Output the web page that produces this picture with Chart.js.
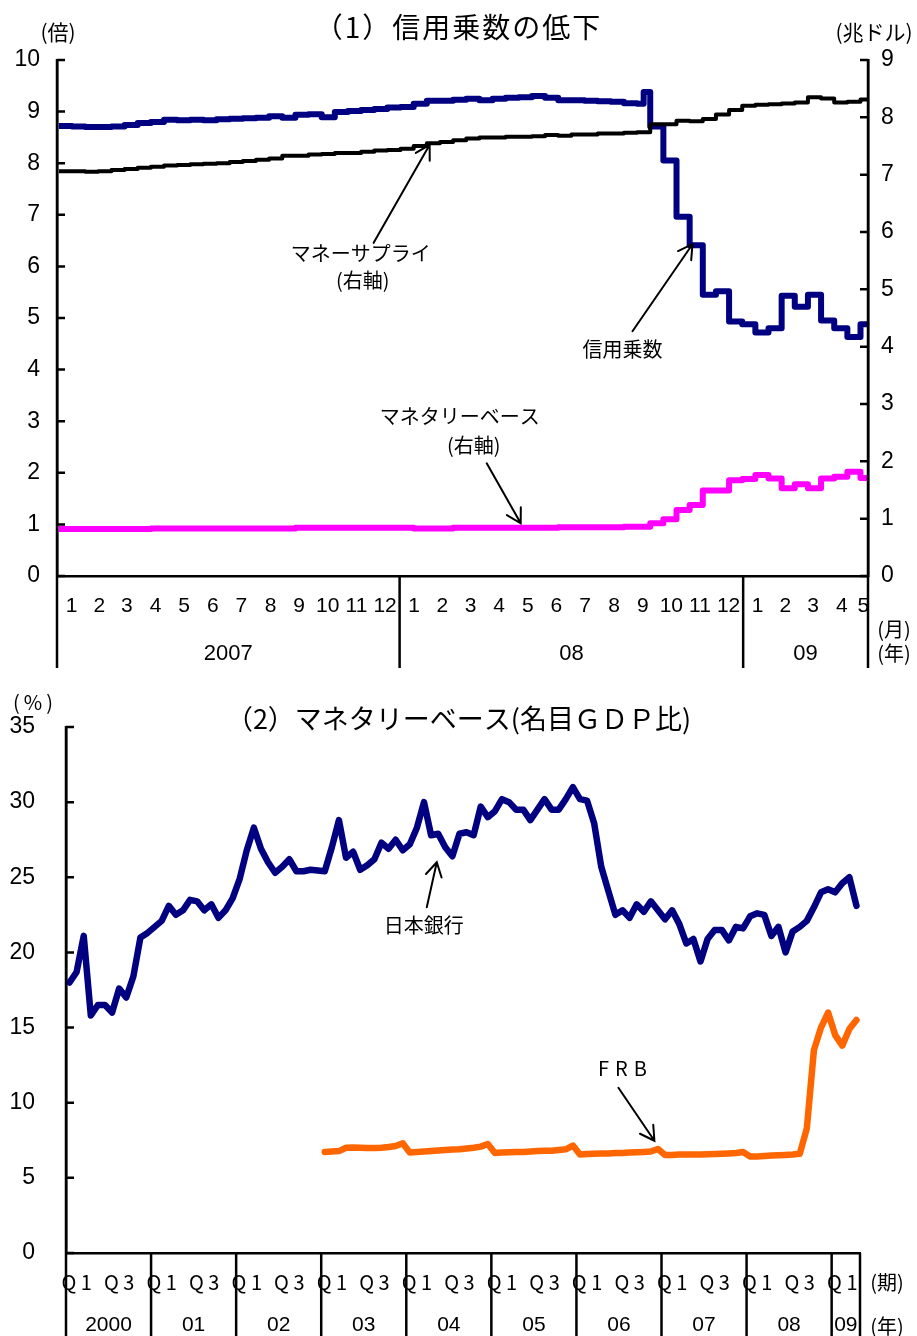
<!DOCTYPE html>
<html lang="ja">
<head>
<meta charset="utf-8">
<title>信用乗数とマネタリーベース</title>
<script src="https://cdn.jsdelivr.net/npm/chart.js@4.4.1/dist/chart.umd.min.js"></script>
<style>
  html, body { margin: 0; padding: 0; background: #ffffff; }
  canvas { display: block; }
</style>
</head>
<body>
<canvas id="c1" width="917" height="680"></canvas>
<canvas id="c2" width="917" height="656"></canvas>
<script>
// ===== (1) 信用乗数の低下 — biweekly observations =====
const periodStart = '2007-01-03';
const periodDays = 14;
const axisStart1 = '2007-01-01';
const axisEnd1 = '2009-05-14';

// 信用乗数（倍, left axis)
const creditMultiplier = [
  8.72, 8.71, 8.70, 8.70, 8.71, 8.74, 8.78, 8.80, 8.84, 8.83, 8.84, 8.83,
  8.85, 8.86, 8.87, 8.88, 8.91, 8.88, 8.94, 8.95, 8.89, 8.99, 9.01, 9.03,
  9.05, 9.08, 9.09, 9.15, 9.21, 9.21, 9.23, 9.25, 9.22, 9.25, 9.27, 9.28,
  9.30, 9.27, 9.22, 9.22, 9.21, 9.20, 9.19, 9.16, 9.15, 8.71, 8.05, 6.96,
  6.41, 5.45, 5.52, 4.93, 4.88, 4.72, 4.80, 5.43, 5.22, 5.45, 4.95, 4.80,
  4.63, 4.88
];
// one extra weekly reading in mid-September 2008
const multiplierSpike = { date: '2008-09-17', value: 9.38 };

// マネーサプライ（兆ドル, right axis)
const moneySupply = [
  7.06, 7.06, 7.05, 7.06, 7.08, 7.10, 7.12, 7.14, 7.16, 7.17, 7.18, 7.19,
  7.20, 7.22, 7.24, 7.26, 7.28, 7.33, 7.33, 7.35, 7.36, 7.38, 7.38, 7.40,
  7.42, 7.43, 7.45, 7.50, 7.55, 7.57, 7.60, 7.63, 7.65, 7.65, 7.66, 7.66,
  7.67, 7.69, 7.68, 7.70, 7.70, 7.72, 7.72, 7.73, 7.74, 7.88, 7.88, 7.94,
  7.93, 7.97, 8.05, 8.13, 8.20, 8.22, 8.23, 8.24, 8.26, 8.35, 8.33, 8.26,
  8.27, 8.31
];

// マネタリーベース（兆ドル, right axis)
const monetaryBase = [
  0.82, 0.82, 0.82, 0.82, 0.82, 0.82, 0.82, 0.83, 0.83, 0.83, 0.83, 0.83,
  0.83, 0.83, 0.83, 0.83, 0.83, 0.83, 0.84, 0.84, 0.84, 0.84, 0.84, 0.84,
  0.84, 0.84, 0.84, 0.83, 0.83, 0.83, 0.84, 0.84, 0.84, 0.84, 0.84, 0.84,
  0.84, 0.84, 0.85, 0.85, 0.85, 0.85, 0.85, 0.86, 0.86, 0.92, 0.99, 1.15,
  1.24, 1.49, 1.49, 1.67, 1.69, 1.76, 1.70, 1.53, 1.60, 1.53, 1.70, 1.73,
  1.82, 1.71
];

const monthLabels1 = ['1','2','3','4','5','6','7','8','9','10','11','12',
                      '1','2','3','4','5','6','7','8','9','10','11','12',
                      '1','2','3','4','5'];
const yearLabels1 = ['2007', '08', '09'];
const yearStarts1 = ['2007-01-01', '2008-01-01', '2009-01-01'];

// ===== (2) マネタリーベース（名目GDP比） — monthly, %, from 2000-01 =====
const bojRatio = [
  18.0, 18.7, 21.1, 15.8, 16.5, 16.5, 16.0, 17.6, 17.0, 18.4, 21.0, 21.3,
  21.7, 22.1, 23.1, 22.5, 22.8, 23.5, 23.4, 22.8, 23.2, 22.3, 22.8, 23.6,
  24.9, 26.8, 28.3, 26.9, 26.0, 25.3, 25.7, 26.2, 25.4, 25.4, 25.5, 25.45,
  25.4, 27.0, 28.8, 26.3, 26.7, 25.5, 25.8, 26.2, 27.3, 26.9, 27.5, 26.8,
  27.2, 28.3, 30.0, 27.8, 27.9, 27.0, 26.4, 27.9, 28.0, 27.8, 29.7, 29.0,
  29.4, 30.2, 30.0, 29.5, 29.5, 28.8, 29.5, 30.2, 29.5, 29.5, 30.2, 31.0,
  30.2, 30.1, 28.6, 25.7, 24.1, 22.5, 22.8, 22.3, 23.2, 22.7, 23.4, 22.8,
  22.2, 22.8, 21.9, 20.6, 20.9, 19.4, 20.9, 21.5, 21.5, 20.8, 21.7, 21.6,
  22.4, 22.6, 22.5, 21.1, 21.7, 20.0, 21.4, 21.7, 22.1, 23.0, 24.0, 24.2,
  24.0, 24.6, 25.0, 23.1
];
const frbFirstYear = 2003;
const frbRatio = [
  6.72, 6.75, 6.78, 7.00, 7.02, 7.00, 6.98, 6.98, 7.00, 7.05, 7.12, 7.30,
  6.68, 6.72, 6.75, 6.78, 6.82, 6.85, 6.88, 6.90, 6.95, 7.00, 7.08, 7.25,
  6.65, 6.68, 6.70, 6.72, 6.72, 6.75, 6.78, 6.80, 6.80, 6.85, 6.90, 7.15,
  6.55, 6.58, 6.60, 6.62, 6.62, 6.65, 6.65, 6.68, 6.70, 6.72, 6.75, 6.92,
  6.52, 6.52, 6.55, 6.55, 6.55, 6.55, 6.57, 6.58, 6.60, 6.62, 6.65, 6.72,
  6.42, 6.42, 6.45, 6.48, 6.50, 6.52, 6.55, 6.60, 8.30, 13.50, 15.00, 16.00,
  14.50, 13.80, 14.90, 15.50
];
const firstYear2 = 2000;
const monthsShown2 = 112;
const quarterLabels = ['Q 1', 'Q 3'];
const yearLabels2 = ['2000','01','02','03','04','05','06','07','08','09'];

// ===== shared styling =====
const NUM = '"Liberation Sans", Arial, sans-serif';
const JP = '"Noto Sans CJK JP", "Noto Sans", sans-serif';
const NAVY = '#000080';
const AXIS_W = 2.5;

const DAY = 86400000;
const t0 = Date.parse(axisStart1);
const dayOf = s => (Date.parse(s) - t0) / DAY;
const endDay1 = dayOf(axisEnd1);

function periodSeries(values) {
  const start = dayOf(periodStart);
  const pts = values.map((v, i) => ({ x: start + i * periodDays, y: v }));
  // hold the latest reading through to the end of the axis
  pts.push({ x: endDay1, y: values[values.length - 1] });
  return pts;
}
const multiplierPts = periodSeries(creditMultiplier);
multiplierPts.push({ x: dayOf(multiplierSpike.date), y: multiplierSpike.value });
multiplierPts.sort((a, b) => a.x - b.x);

// tick positions in the middle of each month
const monthMid1 = monthLabels1.map((_, i) => {
  const y = 2007 + Math.floor(i / 12), m = i % 12;
  const a = (Date.UTC(y, m, 1) - t0) / DAY, b = (Date.UTC(y, m + 1, 1) - t0) / DAY;
  return Math.min((a + b) / 2, endDay1 - 5);
});

function arrow(ctx, x1, y1, x2, y2) {
  const a = Math.atan2(y2 - y1, x2 - x1), L = 16, w = Math.PI / 6;
  ctx.save();
  ctx.strokeStyle = '#000';
  ctx.lineWidth = 2;
  ctx.lineCap = 'round';
  ctx.beginPath();
  ctx.moveTo(x1, y1); ctx.lineTo(x2, y2);
  ctx.moveTo(x2 - L * Math.cos(a - w), y2 - L * Math.sin(a - w));
  ctx.lineTo(x2, y2);
  ctx.lineTo(x2 - L * Math.cos(a + w), y2 - L * Math.sin(a + w));
  ctx.stroke();
  ctx.restore();
}

function text(ctx, str, x, y, font, align, spacing) {
  ctx.save();
  ctx.fillStyle = '#000';
  ctx.font = font;
  ctx.textAlign = align || 'center';
  ctx.textBaseline = 'middle';
  if (spacing) ctx.letterSpacing = spacing + 'px';
  ctx.fillText(str, x, y);
  ctx.restore();
}

function inwardTicks(ctx, scale, side, len) {
  ctx.save();
  ctx.strokeStyle = '#000';
  ctx.lineWidth = AXIS_W;
  ctx.beginPath();
  scale.ticks.forEach(t => {
    const py = scale.getPixelForValue(t.value);
    const x0 = side === 'left' ? scale.chart.chartArea.left : scale.chart.chartArea.right;
    const x1 = side === 'left' ? x0 + len : x0 - len;
    ctx.moveTo(x0, py); ctx.lineTo(x1, py);
  });
  ctx.stroke();
  ctx.restore();
}

function vline(ctx, x, y1, y2) {
  ctx.save();
  ctx.strokeStyle = '#000';
  ctx.lineWidth = AXIS_W;
  ctx.beginPath();
  ctx.moveTo(x, y1); ctx.lineTo(x, y2);
  ctx.stroke();
  ctx.restore();
}

// ===== chart (1) =====
const notes1 = [
  { lines: ['マネーサプライ', '(右軸)'], axis: 'y2', date: '2008-02-02', value: 7.52,
    tail: [-56, 98], at: [[-69, 109], [-67, 136]] },
  { lines: ['信用乗数'], axis: 'y', date: '2008-11-08', value: 6.43,
    tail: [-60, 87], at: [[-70, 105]] },
  { lines: ['マネタリーベース', '(右軸)'], axis: 'y2', date: '2008-05-09', value: 0.92,
    tail: [-34, -60], at: [[-61, -107], [-47, -78]] }
];

const decor1 = {
  id: 'decor1',
  afterDraw(chart) {
    const ctx = chart.ctx, area = chart.chartArea;
    const xs = chart.scales.x, yl = chart.scales.y, yr = chart.scales.y2;
    const lowEdge = 668;

    text(ctx, '（1）信用乗数の低下', chart.width / 2, 27, '28px ' + JP, 'center', 2);
    text(ctx, '(倍)', 58, 32, '21px ' + JP);
    text(ctx, '(兆ドル)', 874, 32, '21px ' + JP);

    inwardTicks(ctx, yl, 'left', 8);
    inwardTicks(ctx, yr, 'right', 8);

    // year separators below the axis
    const bounds = yearStarts1.map(dayOf).concat([endDay1]);
    bounds.forEach(d => vline(ctx, xs.getPixelForValue(d), area.bottom, lowEdge));
    vline(ctx, area.left, area.top - 1, area.bottom);
    vline(ctx, area.right, area.top - 1, area.bottom);
    yearLabels1.forEach((lab, i) => {
      const xm = (xs.getPixelForValue(bounds[i]) + xs.getPixelForValue(bounds[i + 1])) / 2;
      text(ctx, lab, xm, 654, '22px ' + NUM);
    });
    text(ctx, '(月)', 894, 629, '20px ' + JP);
    text(ctx, '(年)', 894, 653, '20px ' + JP);

    notes1.forEach(n => {
      const hx = xs.getPixelForValue(dayOf(n.date));
      const hy = chart.scales[n.axis].getPixelForValue(n.value);
      arrow(ctx, hx + n.tail[0], hy + n.tail[1], hx, hy);
      n.lines.forEach((s, i) => text(ctx, s, hx + n.at[i][0], hy + n.at[i][1], '20px ' + JP));
    });
  }
};

const lineStyle = { pointRadius: 0, borderCapStyle: 'butt', borderJoinStyle: 'round', fill: false };

new Chart(document.getElementById('c1'), {
  type: 'line',
  data: {
    datasets: [
      Object.assign({ label: 'マネーサプライ', data: periodSeries(moneySupply), yAxisID: 'y2',
        borderColor: '#000000', borderWidth: 4, stepped: true }, lineStyle),
      Object.assign({ label: '信用乗数', data: multiplierPts, yAxisID: 'y',
        borderColor: NAVY, borderWidth: 6, stepped: true }, lineStyle),
      Object.assign({ label: 'マネタリーベース', data: periodSeries(monetaryBase), yAxisID: 'y2',
        borderColor: '#FF00FF', borderWidth: 6, stepped: true }, lineStyle)
    ]
  },
  options: {
    responsive: false,
    animation: false,
    devicePixelRatio: 1,
    layout: { padding: { top: 60, right: 0, bottom: 0, left: 0 } },
    plugins: { legend: { display: false }, tooltip: { enabled: false }, title: { display: false } },
    scales: {
      x: {
        type: 'linear', min: 0, max: endDay1,
        grid: { display: false, drawTicks: false },
        border: { display: true, color: '#000', width: AXIS_W },
        afterBuildTicks: s => { s.ticks = monthMid1.map(v => ({ value: v })); },
        afterFit: s => { s.height = 680 - 576; },
        ticks: { autoSkip: false, maxRotation: 0, minRotation: 0, padding: 18, color: '#000',
                 font: { family: NUM, size: 21 }, callback: (v, i) => monthLabels1[i] }
      },
      y: {
        position: 'left', min: 0, max: 10,
        grid: { display: false, drawTicks: false },
        border: { display: true, color: '#000', width: AXIS_W },
        afterFit: s => { s.width = 57; },
        ticks: { stepSize: 1, padding: 17, color: '#000', font: { family: NUM, size: 23 } }
      },
      y2: {
        position: 'right', min: 0, max: 9,
        grid: { display: false, drawTicks: false },
        border: { display: true, color: '#000', width: AXIS_W },
        afterFit: s => { s.width = 917 - 868; },
        ticks: { stepSize: 1, padding: 13, color: '#000', font: { family: NUM, size: 23 } }
      }
    }
  },
  plugins: [decor1]
});

// ===== chart (2) =====
const bojPts = bojRatio.map((v, i) => ({ x: i + 0.5, y: v }));
const frbOffset = (frbFirstYear - firstYear2) * 12;
const frbPts = frbRatio.map((v, i) => ({ x: frbOffset + i + 0.5, y: v }));
const quarterTicks = [];
const quarterText = [];
for (let m = 0; m < monthsShown2; m += 12) {
  [1.5, 7.5].forEach((q, j) => {
    if (m + q < monthsShown2) { quarterTicks.push(m + q); quarterText.push(quarterLabels[j]); }
  });
}

const notes2 = [
  { lines: ['日本銀行'], month: 52.3, value: 26.0, tail: [-10, 45], at: [[-13, 63]] },
  { lines: ['FRB'], month: 83.0, value: 7.47, tail: [-36, -53], at: [[-29, -72]], spacing: 6 }
];

const decor2 = {
  id: 'decor2',
  afterDraw(chart) {
    const ctx = chart.ctx, area = chart.chartArea;
    const xs = chart.scales.x, ys = chart.scales.y;
    const lowEdge = chart.height;

    text(ctx, '（2）マネタリーベース(名目ＧＤＰ比)', chart.width / 2, 39, '27px ' + JP);
    text(ctx, '(%)', 35, 22, '20px ' + JP, 'center', 4);

    inwardTicks(ctx, ys, 'left', 8);
    vline(ctx, area.left, area.top - 1, area.bottom);

    const bounds = [];
    for (let m = 0; m < monthsShown2; m += 12) bounds.push(m);
    bounds.push(monthsShown2);
    bounds.forEach(m => vline(ctx, xs.getPixelForValue(m), area.bottom, lowEdge));
    yearLabels2.forEach((lab, i) => {
      const xm = (xs.getPixelForValue(bounds[i]) + xs.getPixelForValue(bounds[i + 1])) / 2;
      text(ctx, lab, xm, 645, '21px ' + NUM);
    });
    text(ctx, '(期)', 887, 602, '20px ' + JP);
    text(ctx, '(年)', 887, 646, '20px ' + JP);

    notes2.forEach(n => {
      const hx = xs.getPixelForValue(n.month);
      const hy = ys.getPixelForValue(n.value);
      arrow(ctx, hx + n.tail[0], hy + n.tail[1], hx, hy);
      n.lines.forEach((s, i) => text(ctx, s, hx + n.at[i][0], hy + n.at[i][1], '20px ' + JP, 'center', n.spacing));
    });
  }
};

const lineStyle2 = { pointRadius: 0, borderWidth: 6.5, borderCapStyle: 'round', borderJoinStyle: 'round', tension: 0, fill: false };

new Chart(document.getElementById('c2'), {
  type: 'line',
  data: {
    datasets: [
      Object.assign({ label: '日本銀行', data: bojPts, borderColor: NAVY }, lineStyle2),
      Object.assign({ label: 'FRB', data: frbPts, borderColor: '#FF6600' }, lineStyle2)
    ]
  },
  options: {
    responsive: false,
    animation: false,
    devicePixelRatio: 1,
    layout: { padding: { top: 47, right: 917 - 860, bottom: 0, left: 0 } },
    plugins: { legend: { display: false }, tooltip: { enabled: false }, title: { display: false } },
    scales: {
      x: {
        type: 'linear', min: 0, max: monthsShown2,
        grid: { display: false, drawTicks: false },
        border: { display: true, color: '#000', width: AXIS_W },
        afterBuildTicks: s => { s.ticks = quarterTicks.map(v => ({ value: v })); },
        afterFit: s => { s.height = 656 - 573; },
        ticks: { autoSkip: false, maxRotation: 0, minRotation: 0, padding: 17, color: '#000',
                 font: { family: JP, size: 20 }, callback: (v, i) => quarterText[i] }
      },
      y: {
        position: 'left', min: 0, max: 35,
        grid: { display: false, drawTicks: false },
        border: { display: true, color: '#000', width: AXIS_W },
        afterFit: s => { s.width = 66; },
        ticks: { stepSize: 5, padding: 31, color: '#000', font: { family: NUM, size: 23 } }
      }
    }
  },
  plugins: [decor2]
});
</script>
</body>
</html>
